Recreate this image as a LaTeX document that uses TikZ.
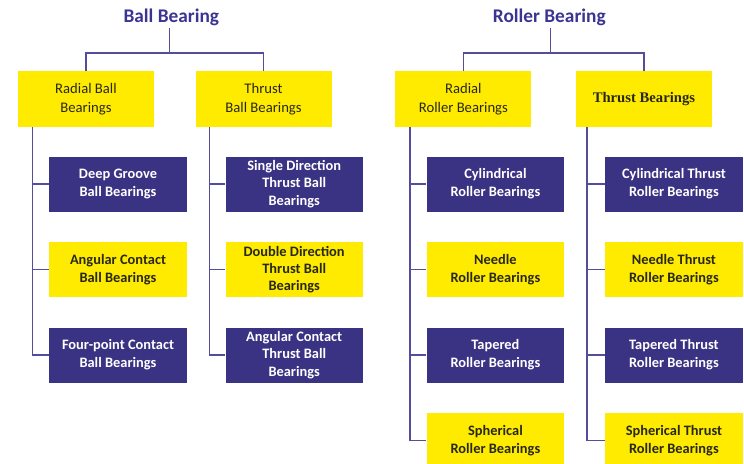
\documentclass[tikz,border=0pt]{standalone}
\usepackage{fontspec}
\setmainfont{Carlito}
\newfontfamily\serifbf{Liberation Serif}
\usetikzlibrary{positioning}
\usepackage{xcolor}
\definecolor{navy}{RGB}{58,50,130}
\definecolor{gold}{RGB}{255,235,0}
\definecolor{linkcol}{RGB}{84,76,156}
\definecolor{ink}{RGB}{40,40,25}
\definecolor{headcol}{RGB}{58,52,146}

\begin{document}
\begin{tikzpicture}[
    head/.style={text=headcol, font=\bfseries\fontsize{14.5}{16}\selectfont, inner sep=2pt},
    cat/.style={fill=gold, text=ink, minimum width=102pt, minimum height=42pt, align=center, font=\fontsize{11}{14}\selectfont},
    dark/.style={fill=navy, text=white, minimum width=103pt, minimum height=41.25pt, align=center, font=\bfseries\fontsize{10.8}{13.5}\selectfont},
    lite/.style={dark, fill=gold, text=ink},
    tall/.style={inner ysep=0pt, font=\bfseries\fontsize{10.8}{13}\selectfont},
    link/.style={draw=linkcol, line width=1.1pt},
    node distance=22.5pt]
    \useasboundingbox (0,0) rectangle (558pt,-348pt);

    \draw node[head] (bb) at (128.5pt,-12.75pt) {Ball Bearing};
    \draw node[head] (rb) at (412pt,-12.75pt) {Roller Bearing};
    \coordinate (bbj) at (127pt,-39.75pt);
    \coordinate (rbj) at (413pt,-39.75pt);

    \draw node[cat] (rbb) at (64.5pt,-74.25pt) {Radial Ball\\Bearings};
    \draw node[cat, right=30.75pt of rbb] (tbb) {Thrust\\Ball Bearings};
    \draw node[cat, right=47.5pt of tbb] (rrb) {Radial\\Roller Bearings};
    \draw node[cat, right=33pt of rrb, font=\serifbf\bfseries\fontsize{11}{13}\selectfont] (trb) {Thrust Bearings};

    % ball bearing types
    \draw node[dark, below=21.75pt of rbb, xshift=24pt] (dgb) {Deep Groove\\Ball Bearings};
    \draw node[lite, below=of dgb] (acb) {Angular Contact\\Ball Bearings};
    \draw node[dark, below=of acb] (fcb) {Four-point Contact\\Ball Bearings};

    \draw node[dark, tall, below=21.75pt of tbb, xshift=23pt] (sdt) {Single Direction\\Thrust Ball\\Bearings};
    \draw node[lite, tall, below=of sdt] (ddt) {Double Direction\\Thrust Ball\\Bearings};
    \draw node[dark, tall, below=of ddt] (act) {Angular Contact\\Thrust Ball\\Bearings};

    % roller bearing types
    \draw node[dark, below=21.75pt of rrb, xshift=24pt] (cyr) {Cylindrical\\Roller Bearings};
    \draw node[lite, below=of cyr] (ndr) {Needle\\Roller Bearings};
    \draw node[dark, below=of ndr] (tpr) {Tapered\\Roller Bearings};
    \draw node[lite, below=of tpr] (spr) {Spherical\\Roller Bearings};

    \draw node[dark, below=21.75pt of trb, xshift=22.5pt] (cyt) {Cylindrical Thrust\\Roller Bearings};
    \draw node[lite, below=of cyt] (ndt) {Needle Thrust\\Roller Bearings};
    \draw node[dark, below=of ndt] (tpt) {Tapered Thrust\\Roller Bearings};
    \draw node[lite, below=of tpt] (spt) {Spherical Thrust\\Roller Bearings};

    % tree lines
    \draw[link] (bbj |- bb.south) -- (bbj);
    \draw[link] (rbb.north) |- (bbj) -| (tbb.north);
    \draw[link] (rbj |- rb.south) -- (rbj);
    \draw[link] (rrb.north) |- (rbj) -| (trb.north);

    \draw[link] ([xshift=11pt]rbb.south west) |- (dgb.west);
    \draw[link] ([xshift=11pt]rbb.south west) |- (acb.west);
    \draw[link] ([xshift=11pt]rbb.south west) |- (fcb.west);
    \draw[link] ([xshift=10.5pt]tbb.south west) |- (sdt.west);
    \draw[link] ([xshift=10.5pt]tbb.south west) |- (ddt.west);
    \draw[link] ([xshift=10.5pt]tbb.south west) |- (act.west);
    \draw[link] ([xshift=11pt]rrb.south west) |- (cyr.west);
    \draw[link] ([xshift=11pt]rrb.south west) |- (ndr.west);
    \draw[link] ([xshift=11pt]rrb.south west) |- (tpr.west);
    \draw[link] ([xshift=11pt]rrb.south west) |- (spr.west);
    \draw[link] ([xshift=8.5pt]trb.south west) |- (cyt.west);
    \draw[link] ([xshift=8.5pt]trb.south west) |- (ndt.west);
    \draw[link] ([xshift=8.5pt]trb.south west) |- (tpt.west);
    \draw[link] ([xshift=8.5pt]trb.south west) |- (spt.west);
\end{tikzpicture}
\end{document}
